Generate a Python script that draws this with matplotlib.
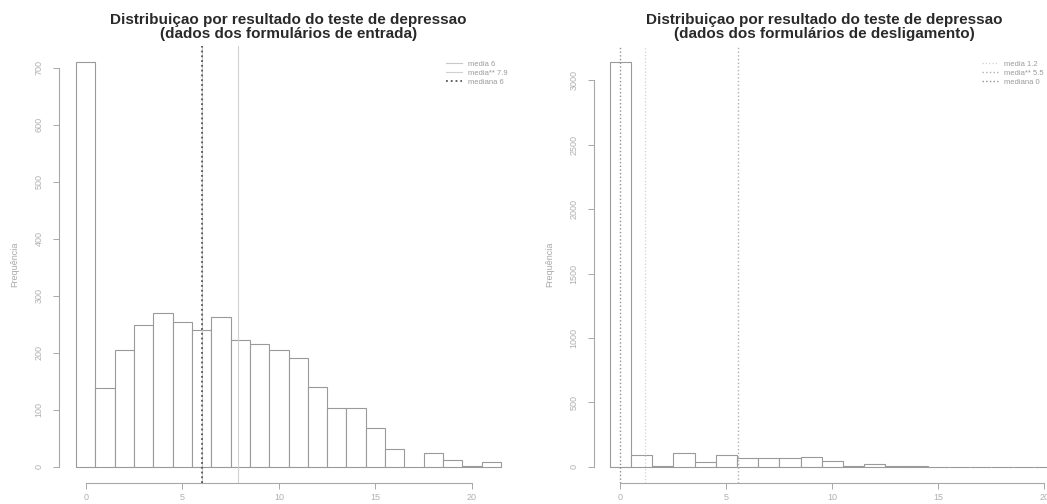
import matplotlib
matplotlib.use("Agg")
from matplotlib import pyplot as plt

# scores 0..21 (dados dos formularios de entrada)
entrada_scores = list(range(0, 22))
entrada_counts = [710, 139, 205, 249, 270, 254, 240, 263, 223, 216, 205,
                  191, 140, 104, 104, 68, 32, 0, 25, 12, 2, 9]

# scores 0..20 (dados dos formularios de desligamento)
deslig_scores = list(range(0, 21))
deslig_counts = [3140, 88, 5, 106, 40, 88, 70, 70, 70, 75, 44,
                 5, 25, 8, 8, 2, 1, 0, 0, 1, 0]

# media, media**, mediana
entrada_stats = [6.0, 7.9, 6.0]
deslig_stats = [1.15, 5.55, 0.0]
entrada_legend = ["media 6", "media** 7.9", "mediana 6"]
deslig_legend = ["media 1.2", "media** 5.5", "mediana 0"]

entrada_yticks = [0, 100, 200, 300, 400, 500, 600, 700]
deslig_yticks = [0, 500, 1000, 1500, 2000, 2500, 3000]
xticks = [0, 5, 10, 15, 20]

title_top = "Distribuiçao por resultado do teste de depressao"
titles = ["(dados dos formulários de entrada)",
          "(dados dos formulários de desligamento)"]

plt.rcParams['font.family'] = ['Liberation Sans', 'DejaVu Sans']

W, H = 1047, 504
fig = plt.figure(figsize=(W / 100, H / 100), dpi=100)

bar_col = '#9a9a9a'


def make_panel(rect, scores, counts, stats, labels, yticks, xlim, title2,
               line_styles):
    ax = fig.add_axes(rect)
    ax.bar(scores, counts, width=1.0, color='white', edgecolor=bar_col,
           linewidth=0.8)
    for (x, (col, ls, lw)) in zip(stats, line_styles):
        ax.axvline(x, color=col, linestyle=ls, linewidth=lw, zorder=3)
    ymax = max(counts)
    ax.set_ylim(-0.04 * ymax, 1.04 * ymax)
    ax.set_xlim(*xlim)

    for s in ['top', 'right']:
        ax.spines[s].set_visible(False)
    ax.spines['left'].set_bounds(yticks[0], yticks[-1])
    ax.spines['bottom'].set_bounds(xticks[0], xticks[-1])
    for s in ['left', 'bottom']:
        ax.spines[s].set_color('#a8a8a8')
        ax.spines[s].set_linewidth(0.8)

    ax.set_xticks(xticks)
    ax.set_yticks(yticks)
    ax.set_yticklabels([str(v) for v in yticks], rotation=90, va='center')
    ax.tick_params(axis='both', colors='#a8a8a8', labelcolor='#b0b0b0',
                   labelsize=6.5, length=4, width=0.7)
    ax.tick_params(axis='x', pad=3)
    ax.tick_params(axis='y', pad=7)
    ax.set_ylabel("Frequência", color='#a8a8a8', fontsize=6.5, labelpad=11)

    ax.set_title(title_top + "\n" + title2, fontsize=11, fontweight='bold',
                 color='#2a2a2a', pad=6, linespacing=1.0)

    handles = []
    for (col, ls, lw) in line_styles:
        h, = ax.plot([], [], color=col, linestyle=ls, linewidth=lw)
        handles.append(h)
    leg = ax.legend(handles, labels, loc='upper right', frameon=False,
                    fontsize=5.5, handlelength=2.2, labelspacing=0.25,
                    borderaxespad=0.6, bbox_to_anchor=(0.995, 0.985))
    for t in leg.get_texts():
        t.set_color('#9a9a9a')
    return ax


styles_left = [('#c8c8c8', '-', 0.8), ('#d0d0d0', '-', 0.8),
               ('#555555', ':', 1.3)]
styles_right = [('#d0d0d0', ':', 0.9), ('#b0b0b0', ':', 1.0),
                ('#909090', ':', 1.0)]

make_panel([59 / W, 21 / H, 459 / W, 437 / H], entrada_scores,
           entrada_counts, entrada_stats, entrada_legend, entrada_yticks,
           (-1.38, 22.38), titles[0], styles_left)
make_panel([594 / W, 21 / H, 460 / W, 437 / H], deslig_scores,
           deslig_counts, deslig_stats, deslig_legend, deslig_yticks,
           (-1.25, 20.45), titles[1], styles_right)

fig.savefig('out.png', dpi=100)
